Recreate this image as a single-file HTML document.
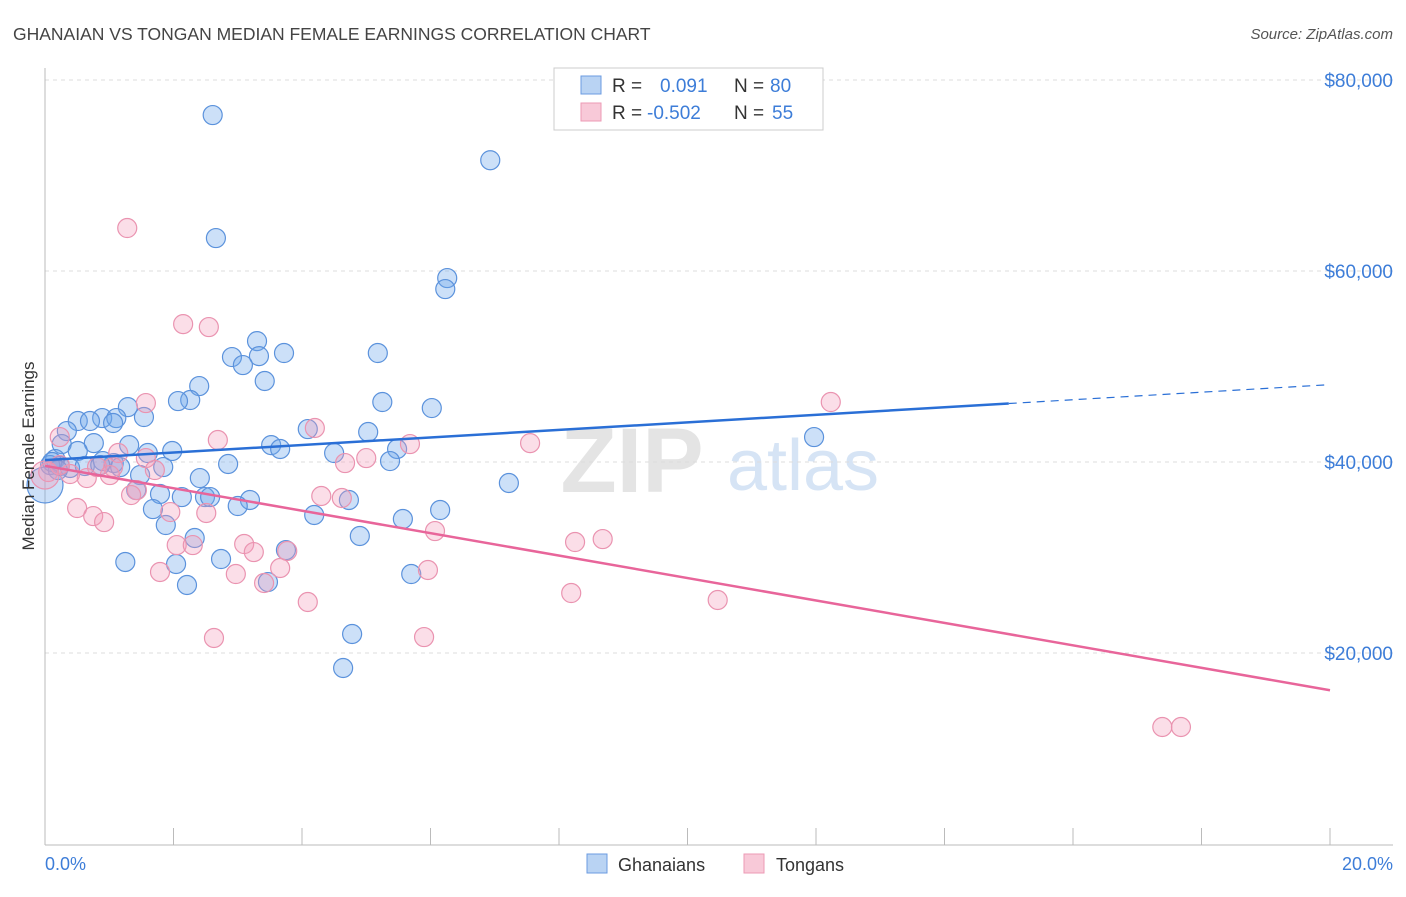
<!DOCTYPE html>
<html><head><meta charset="utf-8"><style>
body{margin:0;background:#fff;font-family:"Liberation Sans",sans-serif;}
svg text{font-family:"Liberation Sans",sans-serif;}
</style></head><body>
<svg id="chart" width="1406" height="892" xmlns="http://www.w3.org/2000/svg">
<text x="13" y="40" font-size="17.5" fill="#444">GHANAIAN VS TONGAN MEDIAN FEMALE EARNINGS CORRELATION CHART</text>
<text x="1393" y="39" font-size="15" fill="#555" font-style="italic" text-anchor="end">Source: ZipAtlas.com</text>
<g>
<text x="632" y="492" font-size="92" fill="#e4e4e4" font-family="Liberation Serif" text-anchor="middle" font-weight="bold">ZIP</text>
<text x="803" y="490" font-size="72" fill="#d6e4f5" text-anchor="middle">atlas</text>
</g>
<g id="grid"></g>
<g id="axes"></g>
<g id="points"></g>
<g id="trends"></g>
<text transform="translate(34,456) rotate(-90)" font-size="17" fill="#333" text-anchor="middle">Median Female Earnings</text>
<text x="45" y="870" font-size="18" fill="#3d7dd8">0.0%</text>
<text x="1393" y="870" font-size="18" fill="#3d7dd8" text-anchor="end">20.0%</text>
<g>
<rect x="554" y="68" width="269" height="62" fill="#fff" stroke="#ccc"/>
<rect x="581" y="76" width="20" height="18" fill="#b9d3f3" stroke="#6b9be0"/>
<rect x="581" y="103" width="20" height="18" fill="#f8c9d8" stroke="#ec9ab5"/>
<text x="612" y="92" font-size="19" fill="#333">R =</text>
<text x="660" y="92" font-size="19" fill="#3d7dd8">0.091</text>
<text x="734" y="92" font-size="19" fill="#333">N =</text>
<text x="770" y="92" font-size="19" fill="#3d7dd8">80</text>
<text x="612" y="119" font-size="19" fill="#333">R =</text>
<text x="647" y="119" font-size="19" fill="#3d7dd8">-0.502</text>
<text x="734" y="119" font-size="19" fill="#333">N =</text>
<text x="772" y="119" font-size="19" fill="#3d7dd8">55</text>
</g>
<g>
<rect x="587" y="854" width="20" height="19" fill="#b9d3f3" stroke="#6b9be0"/>
<text x="618" y="871" font-size="18" fill="#333">Ghanaians</text>
<rect x="744" y="854" width="20" height="19" fill="#f8c9d8" stroke="#ec9ab5"/>
<text x="776" y="871" font-size="18" fill="#333">Tongans</text>
</g>
</svg>
<script>
const blueX=[2.61,2.66,6.93,6.26,6.23,3.30,2.91,3.33,3.72,3.08,5.18,3.42,2.40,2.26,2.07,5.25,6.02,1.29,0.89,0.51,0.70,1.11,1.06,0.34,0.26,0.76,0.51,1.31,1.54,1.60,1.98,3.52,3.66,4.09,5.03,5.48,4.50,5.37,2.85,1.84,1.07,0.90,0.16,0.23,0.39,0.08,1.48,2.41,1.42,1.79,2.13,2.49,2.57,3.19,3.00,1.68,4.73,4.19,5.57,6.15,1.88,2.33,4.90,7.22,11.97,3.75,1.25,2.04,2.74,2.21,3.47,5.70,4.78,4.64,0.62,0.11,1.17,0.86,0.20,0.0];
const blueY=[76330,63450,71600,59260,58110,52660,50990,51090,51410,50150,51410,48480,47950,46490,46380,46280,45650,45750,44600,44290,44290,44600,44080,43240,41880,41980,41150,41770,44710,40940,41150,41770,41360,43450,43140,41360,40940,40100,39790,39470,39890,40100,40310,39580,39370,39680,38630,38320,37060,36650,36330,36330,36330,36020,35390,35070,36020,34450,34030,34970,33400,32040,32250,37800,42610,30780,29530,29320,29840,27120,27430,28270,21990,18430,39580,40000,39470,39680,39160,37590];
const pinkX=[1.28,2.15,2.55,1.57,12.23,0.23,4.20,2.69,7.55,5.68,1.14,1.57,1.71,1.06,0.81,0.65,0.39,0.23,0.05,1.01,1.43,1.34,4.67,5.00,4.30,4.62,0.50,0.75,0.92,1.95,2.51,2.05,2.30,3.10,3.25,1.79,2.97,3.66,3.41,3.77,6.07,8.25,8.68,5.96,8.19,4.09,10.47,2.63,5.90,17.39,17.68,0.0];
const pinkY=[64500,54440,54130,46170,46280,42610,43560,42300,41980,41880,40940,40410,39160,39470,39470,38320,38740,39680,38950,38630,37060,36540,39890,40410,36440,36230,35180,34340,33710,34760,34660,31300,31300,31410,30570,28480,28270,28900,27330,30680,32770,31620,31930,28690,26280,25340,25550,21570,21670,12250,12250,38630];
const yTicks=[20000,40000,60000,80000];
const yTickLabels=["$20,000","$40,000","$60,000","$80,000"];
const xTicks=[2,4,6,8,10,12,14,16,18,20];
const blueTrend=[40200,48100]; // value at 0% and 20%
const blueSolidEnd=15;
const pinkTrend=[39600,16100];

const NS="http://www.w3.org/2000/svg";
const xs=v=>45+v/20*1285;
const ys=v=>844-v/20000*191;
function mk(tag,attrs,parent){const e=document.createElementNS(NS,tag);for(const k in attrs)e.setAttribute(k,attrs[k]);parent.appendChild(e);return e;}
const grid=document.getElementById('grid'),axes=document.getElementById('axes'),pts=document.getElementById('points'),tr=document.getElementById('trends');
yTicks.forEach((t,i)=>{
  const l=mk('line',{x1:45,x2:1393,y1:ys(t),y2:ys(t),stroke:'#ddd','stroke-dasharray':'4,4'},grid);
  
  
  const tx=mk('text',{x:1393,y:ys(t)+7,'font-size':19,fill:'#3d7dd8','text-anchor':'end'},grid);
  tx.textContent=yTickLabels[i];
  
  
});
const ax1=mk('line',{x1:45,x2:45,y1:68,y2:845,stroke:'#bbb'},axes);


const ax2=mk('line',{x1:45,x2:1393,y1:845,y2:845,stroke:'#bbb'},axes);


xTicks.forEach(t=>{
  const l=mk('line',{x1:xs(t),x2:xs(t),y1:828,y2:845,stroke:'#bbb'},axes);
  
  
});
blueX.forEach((x,i)=>{
  const big=(i===blueX.length-1);
  const c=mk('circle',{cx:xs(x),cy:ys(blueY[i]),r:big?18:9.5,fill:'rgba(110,165,235,0.35)',stroke:'#5b92dc','stroke-width':1.2},pts);
  
  
});
pinkX.forEach((x,i)=>{
  const big=(i===pinkX.length-1);
  const c=mk('circle',{cx:xs(x),cy:ys(pinkY[i]),r:big?14:9.5,fill:'rgba(242,155,185,0.33)',stroke:'#ea93b0','stroke-width':1.2},pts);
  
  
});
const bAt=x=>blueTrend[0]+(blueTrend[1]-blueTrend[0])*x/20;
const b1=mk('line',{x1:xs(0),y1:ys(bAt(0)),x2:xs(blueSolidEnd),y2:ys(bAt(blueSolidEnd)),stroke:'#2a6fd6','stroke-width':2.5},tr);


const b2=mk('line',{x1:xs(blueSolidEnd),y1:ys(bAt(blueSolidEnd)),x2:xs(20),y2:ys(bAt(20)),stroke:'#2a6fd6','stroke-width':1.2,'stroke-dasharray':'8,6'},tr);


const p1=mk('line',{x1:xs(0),y1:ys(pinkTrend[0]),x2:xs(20),y2:ys(pinkTrend[1]),stroke:'#e8659a','stroke-width':2.5},tr);


</script>
</body></html>
